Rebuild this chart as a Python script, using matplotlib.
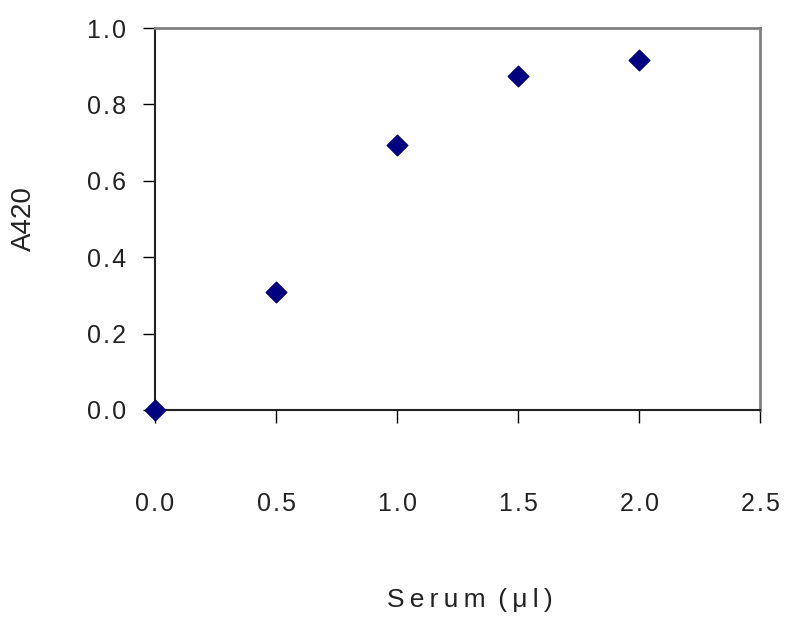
import matplotlib
matplotlib.use("Agg")
import matplotlib.pyplot as plt
from matplotlib.ticker import FuncFormatter

serum_ul = [0.0, 0.5, 1.0, 1.5, 2.0]
a420 = [0.0, 0.309, 0.694, 0.874, 0.916]

x_ticks = [0.0, 0.5, 1.0, 1.5, 2.0, 2.5]
y_ticks = [0.0, 0.2, 0.4, 0.6, 0.8, 1.0]

HAIR = "\u200a"
THIN = "\u2009"


def spaced(s, sep=HAIR):
    # mimic the wide letter spacing of the original
    return sep.join(s)


def main():
    plt.rcParams["font.family"] = ["Liberation Sans", "DejaVu Sans"]

    fig = plt.figure(figsize=(7.85, 6.17), dpi=100)
    ax = fig.add_axes([0.1975, 0.3355, 0.7707, 0.619])

    ax.scatter(serum_ul, a420, marker="D", s=110, color="#000080",
               edgecolors="#000080", zorder=3, clip_on=False)

    ax.set_xlim(0, 2.5)
    ax.set_ylim(0, 1.0)
    ax.set_xticks(x_ticks)
    ax.set_yticks(y_ticks)
    ax.xaxis.set_major_formatter(FuncFormatter(lambda v, p: spaced(f"{v:.1f}")))
    ax.yaxis.set_major_formatter(FuncFormatter(lambda v, p: spaced(f"{v:.1f}")))

    ax.tick_params(axis="x", direction="out", length=9, width=1, color="black",
                   pad=50, labelsize=18, labelcolor="#222222")
    ax.tick_params(axis="y", direction="out", length=9, width=1, color="black",
                   pad=12, labelsize=18, labelcolor="#222222")

    for side in ["left", "bottom"]:
        ax.spines[side].set_color("#222222")
        ax.spines[side].set_linewidth(1.5)
    for side in ["top", "right"]:
        ax.spines[side].set_color("#808080")
        ax.spines[side].set_linewidth(2)

    xlab = spaced("Serum", THIN) + " " + THIN + spaced("(\u03bcl)", THIN)
    ax.set_xlabel(xlab, fontsize=19, color="#222222")
    ax.xaxis.set_label_coords(0.52, -0.465)
    ax.set_ylabel("A420", fontsize=20, labelpad=36, color="#222222")

    fig.savefig("out.png", dpi=100)


if __name__ == "__main__":
    main()
